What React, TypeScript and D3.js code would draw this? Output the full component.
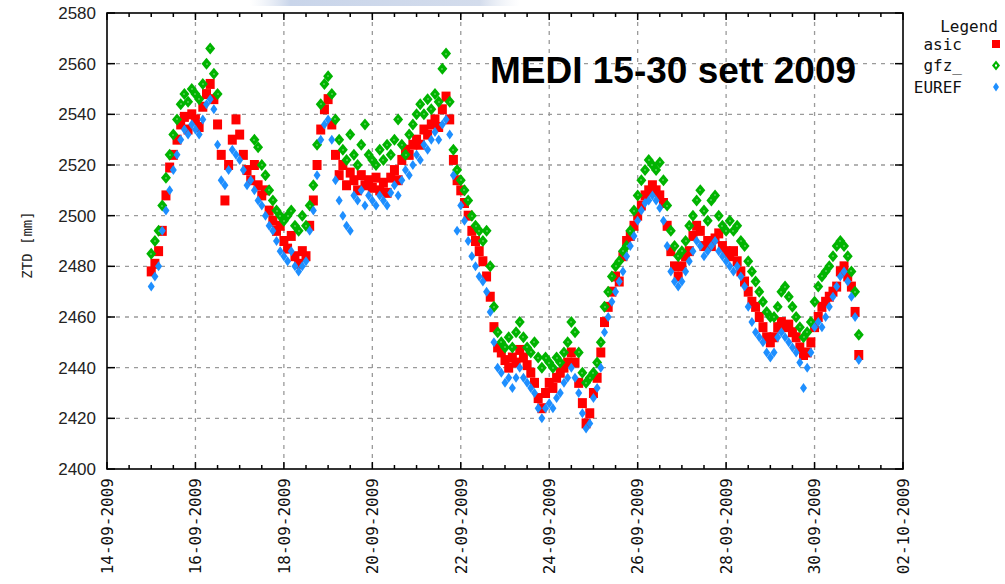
import React from "react";
import * as d3 from "d3";

// 2-hourly samples starting 15-09-2009 00:00 UTC (12 per row = one day)
const startTime = Date.UTC(2009, 8, 15, 0, 0);
const stepHours = 2;

const asic = [
  2478, 2481, 2486, 2494, 2508, 2519, 2524, 2530, 2536, 2539, 2534, 2540,
  2538, 2535, 2543, 2548, 2552, 2546, 2536, 2524, 2506, 2520, 2530, 2538,
  2532, 2524, 2518, 2514, 2520, 2512, 2508, 2510, 2502, 2498, 2494, 2496,
  2490, 2487, 2492, 2484, 2481, 2486, 2484, 2496, 2506, 2520, 2534, 2542,
  2546, 2536, 2524, 2516, 2520, 2512, 2517, 2514, 2510, 2516, 2512, 2514,
  2511, 2515, 2510, 2513, 2509, 2515, 2518, 2514, 2522, 2526, 2524, 2528,
  2530, 2528, 2534, 2532, 2536, 2538, 2535, 2542, 2547, 2538, 2522, 2514,
  2510, 2505, 2500, 2494, 2490, 2486, 2482, 2476, 2468, 2456, 2448, 2446,
  2443, 2440, 2444, 2442, 2447, 2444, 2441, 2438, 2434, 2428, 2424, 2430,
  2434, 2432, 2436, 2438, 2440, 2442, 2446, 2442, 2434, 2426, 2418, 2422,
  2430, 2436, 2446, 2458, 2464, 2470, 2476, 2474, 2484, 2490, 2492, 2496,
  2500, 2504, 2508, 2510, 2512, 2510, 2508, 2505, 2496, 2486, 2480, 2476,
  2480, 2484, 2486, 2492, 2496, 2494, 2488, 2490, 2488, 2491, 2493, 2488,
  2486, 2484, 2486, 2482, 2478, 2474, 2470, 2466, 2464, 2460, 2456, 2452,
  2450, 2452, 2456, 2458, 2456, 2457, 2454, 2452, 2448, 2445, 2446, 2450,
  2456, 2460, 2464, 2466, 2468, 2470, 2472, 2478, 2480, 2476, 2472, 2462,
  2445,
];

const gfz = [
  2485, 2490, 2494, 2504, 2515, 2524, 2532, 2538, 2544, 2548, 2545, 2550,
  2548, 2546, 2552, 2560, 2566, 2556, 2548, null, null, null, null, null,
  null, null, null, null, 2530, 2527, 2520, 2516, 2510, 2506, 2502, 2500,
  2498, 2500, 2502, 2496, 2494, 2500, 2496, 2504, 2512, 2528, 2544, 2552,
  2555, 2548, 2538, 2530, 2526, 2522, 2532, 2524, 2520, 2528, 2536, 2524,
  2522, 2520, 2526, 2522, 2528, 2524, 2530, 2538, 2528, 2524, 2532, 2536,
  2540, 2544, 2540, 2546, 2542, 2548, 2545, 2558, 2564, 2545, 2526, 2518,
  2514, 2510, 2506, 2500, 2496, 2494, 2490, 2494, 2480, 2464, 2454, 2450,
  2448, 2452, 2448, 2454, 2458, 2452, 2448, 2446, 2450, 2444, 2440, 2444,
  2442, 2440, 2444, 2442, 2446, 2450, 2458, 2454, 2446, 2438, 2434, 2436,
  2438, 2442, 2450, 2464, 2470, 2476, 2480, 2482, 2486, 2488, 2494, 2502,
  2508, 2514, 2518, 2522, 2520, 2518, 2521, 2514, 2504, 2494, 2488, 2484,
  2486, 2490, 2496, 2500, 2506, 2510, 2502, 2498, 2506, 2508, 2500, 2496,
  2494, 2498, 2494, 2496, 2490, 2488, 2482, 2478, 2474, 2470, 2466, 2462,
  2460, 2460, 2464, 2470, 2472, 2468, 2464, 2460, 2456, 2452, 2454, 2458,
  2466, 2472, 2476, 2478, 2480, 2484, 2488, 2490, 2488, 2484, 2478, 2470,
  2453,
];

const euref = [
  2472, 2476, 2480, 2494, 2502, 2510, 2518, 2524, 2530, 2534, 2532, 2536,
  2534, 2532, 2538, 2544, 2546, 2542, 2528, 2514, 2512, 2518, 2526, 2524,
  2522, 2518, 2512, 2514, 2510, 2506, 2504, 2500, 2496, 2494, 2490, 2486,
  2484, 2482, 2486, 2480, 2478, 2480, 2482, 2494, 2502, 2516, 2530, 2536,
  2538, 2530, 2514, 2506, 2500, 2496, 2494, 2508, 2506, 2510, 2504, 2508,
  2506, 2504, 2508, 2506, 2504, 2509, 2512, 2508, 2514, 2518, 2516, 2520,
  2524, 2522, 2528, 2526, 2530, 2533, 2530, 2536, 2538, 2532, 2516, 2494,
  2504, 2498, 2490, 2484, 2480, 2476, 2474, 2470, 2462, 2450, 2440, 2438,
  2434, 2436, 2432, 2436, 2440, 2436, 2434, 2432, 2430, 2424, 2420, 2424,
  2426, 2424, 2428, 2430, 2434, 2436, 2440, 2436, 2430, 2422, 2416, 2418,
  2428, 2432, 2440, 2454, 2460, 2466, 2470, 2474, 2478, 2484, 2488, 2492,
  2498, 2502, 2505, 2506, 2508, 2506, 2503, 2498, 2488, 2478, 2474, 2472,
  2474, 2478, 2482, 2486, 2490, 2488, 2484, 2486, 2488, 2490, 2486, 2484,
  2482, 2480, 2478, 2480, 2476, 2472, 2464, 2458, 2454, 2452, 2450, 2446,
  2444, 2446, 2452, 2454, 2452, 2450, 2448, 2446, 2442, 2432, 2440, 2446,
  2456, 2458, 2456, 2460, 2464, 2468, 2472, 2476, 2478, 2474, 2468, 2460,
  2443,
];

const yTicks = [2400, 2420, 2440, 2460, 2480, 2500, 2520, 2540, 2560, 2580];
const legendNames = ["asic", "gfz_", "EUREF"];
const title = "MEDI 15-30 sett 2009";
const yLabel = "ZTD [mm]";

const W = 1005;
const H = 584;
const left = 107, right = 903, top = 13, bottom = 469;

const RED = "#ff0000";
const GREEN = "#00b400";
const BLUE = "#1e8fff";

const t0 = new Date(Date.UTC(2009, 8, 14));
const t1 = new Date(Date.UTC(2009, 9, 2));
const x = d3.scaleUtc().domain([t0, t1]).range([left, right]);
const y = d3.scaleLinear().domain([2400, 2580]).range([bottom, top]);

const tEnd = new Date(Date.UTC(2009, 9, 2, 1));
const majorTicks = d3.utcDay.range(t0, tEnd, 2);
const minorTicks = d3.utcHour.range(t0, tEnd, 12);
const fmt = d3.utcFormat("%d-%m-%Y");

const timeAt = (i: number) => new Date(startTime + i * stepHours * 3600 * 1000);

const rct = (cx: number, cy: number, w: number, h: number) =>
  `M${cx - w / 2},${cy - h / 2}h${w}v${h}h${-w}Z`;
const dia = (cx: number, cy: number, w: number, h: number) =>
  `M${cx},${cy - h / 2}L${cx + w / 2},${cy}L${cx},${cy + h / 2}L${cx - w / 2},${cy}Z`;

const RedMark = ({ cx, cy }: { cx: number; cy: number }) => (
  <path d={rct(cx, cy, 9, 10)} fill={RED} />
);
const GreenMark = ({ cx, cy }: { cx: number; cy: number }) => (
  <g>
    <path d={dia(cx, cy, 10, 12)} fill={GREEN} />
    <rect x={Math.round(cx) - 0.5} y={Math.round(cy) - 0.5} width={1} height={1} fill="#fff" />
  </g>
);
const BlueMark = ({ cx, cy }: { cx: number; cy: number }) => (
  <path d={dia(cx, cy, 7, 10)} fill={BLUE} />
);

export default function App() {
  const mono = "'DejaVu Sans Mono', monospace";
  const sans = "'Liberation Sans', Arial, sans-serif";
  const majorSet = new Set(majorTicks.map((d) => d.getTime()));
  return (
    <svg
      width={W}
      height={H}
      style={{ position: "absolute", left: 0, top: 0, background: "#fff" }}
    >
      <defs>
        <linearGradient id="band" x1="0" x2="1" y1="0" y2="0">
          <stop offset="0" stopColor="#dfe6f2" stopOpacity={0} />
          <stop offset="0.15" stopColor="#c9d5ea" />
          <stop offset="0.85" stopColor="#d3dcec" />
          <stop offset="1" stopColor="#e8edf5" stopOpacity={0} />
        </linearGradient>
      </defs>
      <rect x={250} y={0} width={270} height={6} fill="url(#band)" />

      {/* grid */}
      {yTicks.slice(1, -1).map((v) => (
        <line key={"gy" + v} x1={left} x2={right} y1={y(v)} y2={y(v)} stroke="#9a9a9a" strokeWidth={1.3} strokeDasharray="4,5" />
      ))}
      {majorTicks.slice(1, -1).map((d) => (
        <line key={"gx" + d.getTime()} x1={x(d)} x2={x(d)} y1={top} y2={bottom} stroke="#9a9a9a" strokeWidth={1.3} strokeDasharray="4,5" />
      ))}

      {/* ticks */}
      {minorTicks.map((d) => {
        const len = majorSet.has(d.getTime()) ? 7 : 4;
        return (
          <g key={"t" + d.getTime()}>
            <line x1={x(d)} x2={x(d)} y1={bottom} y2={bottom - len} stroke="#000" strokeWidth={1.5} />
            <line x1={x(d)} x2={x(d)} y1={top} y2={top + len} stroke="#000" strokeWidth={1.5} />
          </g>
        );
      })}
      {yTicks.map((v) => (
        <g key={"yt" + v}>
          <line x1={left} x2={left + 8} y1={y(v)} y2={y(v)} stroke="#000" strokeWidth={1.5} />
          <line x1={right} x2={right - 8} y1={y(v)} y2={y(v)} stroke="#000" strokeWidth={1.5} />
          <text x={96} y={y(v)} dy="0.36em" textAnchor="end" fontFamily={sans} fontSize={17} fill="#222">
            {v}
          </text>
        </g>
      ))}

      {/* data */}
      {asic.map((v, i) => (v == null ? null : <RedMark key={"a" + i} cx={x(timeAt(i))} cy={y(v)} />))}
      {gfz.map((v, i) => (v == null ? null : <GreenMark key={"g" + i} cx={x(timeAt(i))} cy={y(v)} />))}
      {euref.map((v, i) => (v == null ? null : <BlueMark key={"e" + i} cx={x(timeAt(i))} cy={y(v)} />))}

      {/* frame */}
      <rect x={left} y={top} width={right - left} height={bottom - top} fill="none" stroke="#000" strokeWidth={1.6} />

      {/* x labels */}
      {majorTicks.map((d) => (
        <text
          key={"xl" + d.getTime()}
          transform={`translate(${x(d)},${bottom + 9}) rotate(-90)`}
          dy="0.36em"
          textAnchor="end"
          fontFamily={mono}
          fontSize={16}
          fill="#111"
        >
          {fmt(d)}
        </text>
      ))}

      <text transform={`translate(27,245) rotate(-90)`} dy="0.36em" textAnchor="middle" fontFamily={mono} fontSize={14} fill="#222">
        {yLabel}
      </text>

      <text x={490} y={83} fontFamily={sans} fontWeight="bold" fontSize={37} fill="#000">
        {title}
      </text>

      {/* legend */}
      <text x={998} y={32} textAnchor="end" fontFamily={mono} fontSize={16} fill="#111">
        Legend
      </text>
      {legendNames.map((n, i) => {
        const ly = 44 + i * 21.5;
        return (
          <g key={n}>
            <text x={962} y={ly} dy="0.36em" textAnchor="end" fontFamily={mono} fontSize={16} fill="#111">
              {n}
            </text>
            {i === 0 && <path d={rct(996, ly, 8, 8)} fill={RED} />}
            {i === 1 && (
              <g>
                <path d={dia(996, ly, 8, 10)} fill={GREEN} />
                <rect x={995} y={ly - 1} width={2} height={2} fill="#fff" />
              </g>
            )}
            {i === 2 && <path d={dia(996, ly, 6, 9)} fill={BLUE} />}
          </g>
        );
      })}
    </svg>
  );
}
